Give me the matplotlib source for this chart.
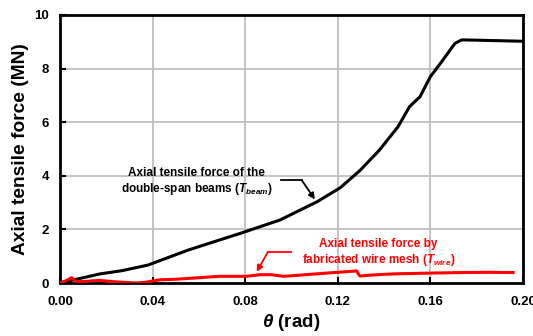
import matplotlib
matplotlib.use("Agg")
import matplotlib.pyplot as plt

plt.rcParams['font.family'] = ['Liberation Sans', 'DejaVu Sans']
plt.rcParams['mathtext.fontset'] = 'custom'
plt.rcParams['mathtext.it'] = 'Liberation Sans:italic:bold'
plt.rcParams['mathtext.rm'] = 'Liberation Sans:bold'
plt.rcParams['mathtext.bf'] = 'Liberation Sans:bold'

theta_beam = [0.0, 0.005, 0.0122, 0.0173, 0.0267, 0.038, 0.0554, 0.0698, 0.0778, 0.0864,
              0.095, 0.111, 0.121, 0.1296, 0.138, 0.146, 0.151, 0.1555, 0.16, 0.1649,
              0.1706, 0.1735, 0.18, 0.19, 0.2]
t_beam = [0.0, 0.1, 0.24, 0.34, 0.46, 0.67, 1.23, 1.63, 1.85, 2.1,
          2.35, 3.03, 3.55, 4.2, 4.96, 5.83, 6.58, 6.95, 7.7, 8.26,
          8.94, 9.07, 9.06, 9.04, 9.02]

theta_wire = [0.0, 0.003, 0.005, 0.007, 0.011, 0.017, 0.023, 0.0327, 0.037, 0.0432,
              0.05, 0.0588, 0.0688, 0.0806, 0.0864, 0.0914, 0.0965, 0.1, 0.1152,
              0.1282, 0.1288, 0.1296, 0.135, 0.144, 0.16, 0.173, 0.185, 0.1957]
t_wire = [0.0, 0.1, 0.2, 0.05, 0.06, 0.1, 0.05, 0.0, 0.03, 0.12,
          0.14, 0.19, 0.25, 0.25, 0.31, 0.31, 0.25, 0.27, 0.37,
          0.45, 0.35, 0.26, 0.3, 0.34, 0.37, 0.39, 0.4, 0.39]

x_ticks = [0.0, 0.04, 0.08, 0.12, 0.16, 0.20]
y_ticks = [0, 2, 4, 6, 8, 10]

fig = plt.figure(figsize=(5.33, 3.36), dpi=100)
ax = fig.add_axes([0.1126, 0.1577, 0.8686, 0.7977])

ax.plot(theta_beam, t_beam, color='black', lw=2.2, solid_joinstyle='round', zorder=3)
ax.plot(theta_wire, t_wire, color='#ff0000', lw=2.2, solid_joinstyle='round', zorder=3)

ax.set_xlim(0, 0.2)
ax.set_ylim(0, 10)
ax.set_xticks(x_ticks)
ax.set_xticklabels(['%.2f' % v for v in x_ticks], fontweight='bold', fontsize=9.5)
ax.set_yticks(y_ticks)
ax.set_yticklabels([str(v) for v in y_ticks], fontweight='bold', fontsize=9.5)
ax.tick_params(axis='x', direction='in', length=4, width=1.5, pad=9)
ax.tick_params(axis='y', direction='in', length=4, width=1.5, pad=8)
ax.grid(True, color='#bfbfbf', lw=1.3)
ax.set_axisbelow(True)
for s in ax.spines.values():
    s.set_linewidth(2.0)
    s.set_color('black')

ax.set_ylabel('Axial tensile force (MN)', fontsize=13.8, fontweight='bold', labelpad=4)
ax.set_xlabel(r'$\theta$ (rad)', fontsize=13.5, fontweight='bold', labelpad=3)

ax.text(0.059, 3.77, 'Axial tensile force of the\ndouble-span beams ($T_{beam}$)',
        ha='center', va='center', fontsize=8.5, fontweight='bold', color='black',
        linespacing=1.25)
ax.annotate('', xy=(0.1101, 3.12), xytext=(0.1044, 3.84),
            arrowprops=dict(arrowstyle='-|>', color='black', lw=1.3,
                            mutation_scale=9, shrinkA=0, shrinkB=0))
ax.plot([0.0956, 0.1044], [3.84, 3.84], color='black', lw=1.3)

ax.text(0.1376, 1.12, 'Axial tensile force by\nfabricated wire mesh ($T_{wire}$)',
        ha='center', va='center', fontsize=8.5, fontweight='bold', color='#ff0000',
        linespacing=1.25)
ax.annotate('', xy=(0.085, 0.42), xytext=(0.0899, 1.17),
            arrowprops=dict(arrowstyle='-|>', color='#ff0000', lw=1.3,
                            mutation_scale=9, shrinkA=0, shrinkB=0))
ax.plot([0.0899, 0.0998], [1.17, 1.17], color='#ff0000', lw=1.3)

fig.savefig('out.png', dpi=100)
